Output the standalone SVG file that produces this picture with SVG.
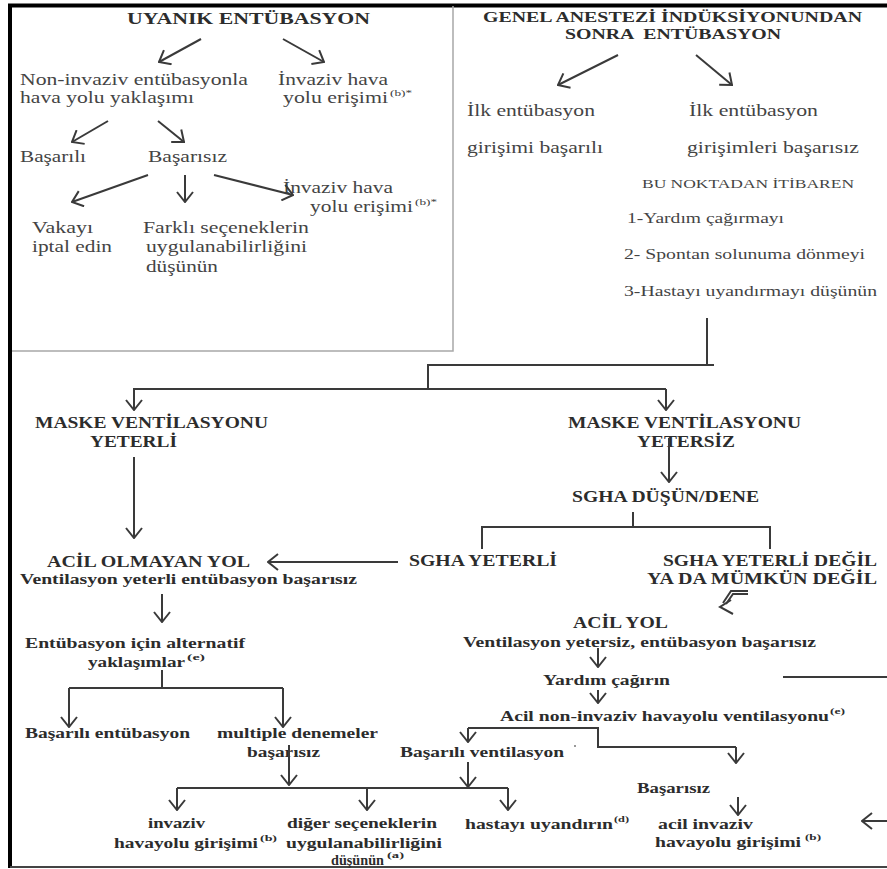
<svg xmlns="http://www.w3.org/2000/svg" width="887" height="869" viewBox="0 0 887 869">
  <style>
    text { font-family: "Liberation Serif", "Times New Roman", serif; fill: #3a3a3a; }
    .r { font-size: 17px; fill: #444; }
    .s { font-size: 14px; fill: #444; }
    .xs { font-size: 13px; fill: #444; }
    .b { font-weight: bold; fill: #2c2c2c; }
    .h { font-size: 16px; }
    .m { font-size: 15px; }
    .sup { font-size: 9px; }
    .c { fill: none; stroke: #3a3a3a; stroke-width: 2; }
    .a { fill: none; stroke: #3a3a3a; stroke-width: 2; marker-end: url(#ah); }
    .frame { fill: none; stroke: #000; stroke-width: 4; }
    .box { fill: none; stroke: #a8a8a8; stroke-width: 1.5; }
  </style>
  <defs>
    <marker id="ah" markerUnits="userSpaceOnUse" viewBox="0 0 12 18" markerWidth="12" markerHeight="18" refX="11" refY="9" orient="auto">
      <path d="M1,1 L11,9 L1,17" fill="none" stroke="#3a3a3a" stroke-width="2"/>
    </marker>
  </defs>

  <rect width="887" height="869" fill="#fff"/>

  <!-- outer frame -->
  <g id="frame">
    <line class="frame" x1="8" y1="5.5" x2="887" y2="5.5"/>
    <line class="frame" x1="10" y1="4" x2="10" y2="868"/>
    <line x1="10" y1="867" x2="887" y2="867" stroke="#444" stroke-width="2"/>
    <polyline class="box" points="453,6 453,351 12,351"/>
  </g>

  <!-- awake intubation panel -->
  <g id="awake">
    <text class="b h" x="127" y="24" textLength="243" lengthAdjust="spacingAndGlyphs">UYANIK ENTÜBASYON</text>
    <text class="r" x="20" y="85" textLength="228" lengthAdjust="spacingAndGlyphs">Non-invaziv entübasyonla</text>
    <text class="r" x="20" y="103" textLength="174" lengthAdjust="spacingAndGlyphs">hava yolu yaklaşımı</text>
    <text class="r" x="278" y="85" textLength="110" lengthAdjust="spacingAndGlyphs">İnvaziv hava</text>
    <text class="r" x="283" y="103" textLength="105" lengthAdjust="spacingAndGlyphs">yolu erişimi</text>
    <text class="sup" x="390" y="96" textLength="22" lengthAdjust="spacingAndGlyphs">(b)*</text>
    <text class="r" x="20" y="162" textLength="66" lengthAdjust="spacingAndGlyphs">Başarılı</text>
    <text class="r" x="148" y="162" textLength="79" lengthAdjust="spacingAndGlyphs">Başarısız</text>
    <text class="r" x="283" y="193" textLength="110" lengthAdjust="spacingAndGlyphs">İnvaziv hava</text>
    <text class="r" x="310" y="212" textLength="103" lengthAdjust="spacingAndGlyphs">yolu erişimi</text>
    <text class="sup" x="415" y="205" textLength="22" lengthAdjust="spacingAndGlyphs">(b)*</text>
    <text class="r" x="32" y="233" textLength="61" lengthAdjust="spacingAndGlyphs">Vakayı</text>
    <text class="r" x="32" y="252" textLength="80" lengthAdjust="spacingAndGlyphs">iptal edin</text>
    <text class="r" x="143" y="233" textLength="166" lengthAdjust="spacingAndGlyphs">Farklı seçeneklerin</text>
    <text class="r" x="146" y="252" textLength="161" lengthAdjust="spacingAndGlyphs">uygulanabilirliğini</text>
    <text class="r" x="146" y="272" textLength="72" lengthAdjust="spacingAndGlyphs">düşünün</text>
  </g>

  <!-- intubation after induction panel -->
  <g id="induction">
    <text class="b m" x="483" y="22" textLength="379" lengthAdjust="spacingAndGlyphs">GENEL ANESTEZİ İNDÜKSİYONUNDAN</text>
    <text class="b m" x="565" y="39" textLength="216" lengthAdjust="spacingAndGlyphs" xml:space="preserve">SONRA  ENTÜBASYON</text>
    <text class="r" x="467" y="116" textLength="128" lengthAdjust="spacingAndGlyphs">İlk entübasyon</text>
    <text class="r" x="467" y="153" textLength="136" lengthAdjust="spacingAndGlyphs">girişimi başarılı</text>
    <text class="r" x="689" y="116" textLength="129" lengthAdjust="spacingAndGlyphs">İlk entübasyon</text>
    <text class="r" x="687" y="153" textLength="172" lengthAdjust="spacingAndGlyphs">girişimleri başarısız</text>
    <text class="xs" x="642" y="188" textLength="212" lengthAdjust="spacingAndGlyphs">BU NOKTADAN İTİBAREN</text>
    <text class="s" x="627" y="223" textLength="157" lengthAdjust="spacingAndGlyphs">1-Yardım çağırmayı</text>
    <text class="s" x="624" y="259" textLength="241" lengthAdjust="spacingAndGlyphs" xml:space="preserve">2- Spontan solunuma dönmeyi</text>
    <text class="s" x="624" y="296" textLength="253" lengthAdjust="spacingAndGlyphs">3-Hastayı uyandırmayı düşünün</text>
  </g>

  <!-- adequate mask ventilation branch -->
  <g id="mask-ok">
    <text class="b h" x="35" y="428" textLength="233" lengthAdjust="spacingAndGlyphs">MASKE VENTİLASYONU</text>
    <text class="b h" x="90" y="447" textLength="87" lengthAdjust="spacingAndGlyphs">YETERLİ</text>
  </g>
  <g id="non-emergency">
    <text class="b h" x="47" y="567" textLength="203" lengthAdjust="spacingAndGlyphs">ACİL OLMAYAN YOL</text>
    <text class="b m" x="20" y="584" textLength="337" lengthAdjust="spacingAndGlyphs">Ventilasyon yeterli entübasyon başarısız</text>
  </g>
  <g id="alternatives">
    <text class="b m" x="25" y="648" textLength="220" lengthAdjust="spacingAndGlyphs">Entübasyon için alternatif</text>
    <text class="b m" x="88" y="667" textLength="97" lengthAdjust="spacingAndGlyphs">yaklaşımlar</text>
    <text class="b sup" x="187" y="660" textLength="18" lengthAdjust="spacingAndGlyphs">(e)</text>
  </g>
  <g id="success-intubation">
    <text class="b m" x="25" y="738" textLength="165" lengthAdjust="spacingAndGlyphs">Başarılı entübasyon</text>
  </g>
  <g id="multiple-fail">
    <text class="b m" x="217" y="738" textLength="161" lengthAdjust="spacingAndGlyphs">multiple denemeler</text>
    <text class="b m" x="247" y="757" textLength="73" lengthAdjust="spacingAndGlyphs">başarısız</text>
  </g>
  <g id="invasive-access">
    <text class="b m" x="148" y="828" textLength="57" lengthAdjust="spacingAndGlyphs">invaziv</text>
    <text class="b m" x="114" y="848" textLength="144" lengthAdjust="spacingAndGlyphs">havayolu girişimi</text>
    <text class="b sup" x="260" y="841" textLength="17" lengthAdjust="spacingAndGlyphs">(b)</text>
  </g>
  <g id="other-options">
    <text class="b m" x="287" y="828" textLength="150" lengthAdjust="spacingAndGlyphs">diğer seçeneklerin</text>
    <text class="b m" x="286" y="848" textLength="156" lengthAdjust="spacingAndGlyphs">uygulanabilirliğini</text>
    <text class="b m" x="331" y="865" textLength="53" lengthAdjust="spacingAndGlyphs">düşünün</text>
    <text class="b sup" x="387" y="858" textLength="17" lengthAdjust="spacingAndGlyphs">(a)</text>
  </g>
  <g id="wake-patient">
    <text class="b m" x="465" y="829" textLength="148" lengthAdjust="spacingAndGlyphs">hastayı uyandırın</text>
    <text class="b sup" x="614" y="822" textLength="15" lengthAdjust="spacingAndGlyphs">(d)</text>
  </g>

  <!-- inadequate mask ventilation branch -->
  <g id="mask-fail">
    <text class="b h" x="568" y="428" textLength="233" lengthAdjust="spacingAndGlyphs">MASKE VENTİLASYONU</text>
    <text class="b h" x="637" y="447" textLength="98" lengthAdjust="spacingAndGlyphs">YETERSİZ</text>
  </g>
  <g id="sga-try">
    <text class="b h" x="572" y="502" textLength="187" lengthAdjust="spacingAndGlyphs">SGHA DÜŞÜN/DENE</text>
  </g>
  <g id="sga-ok">
    <text class="b h" x="409" y="566" textLength="148" lengthAdjust="spacingAndGlyphs">SGHA YETERLİ</text>
  </g>
  <g id="sga-fail">
    <text class="b h" x="663" y="566" textLength="214" lengthAdjust="spacingAndGlyphs">SGHA YETERLİ DEĞİL</text>
    <text class="b h" x="647" y="584" textLength="230" lengthAdjust="spacingAndGlyphs">YA DA MÜMKÜN DEĞİL</text>
  </g>
  <g id="emergency">
    <text class="b h" x="573" y="628" textLength="95" lengthAdjust="spacingAndGlyphs">ACİL YOL</text>
    <text class="b m" x="463" y="647" textLength="353" lengthAdjust="spacingAndGlyphs">Ventilasyon yetersiz, entübasyon başarısız</text>
  </g>
  <g id="call-help">
    <text class="b m" x="543" y="685" textLength="127" lengthAdjust="spacingAndGlyphs">Yardım çağırın</text>
  </g>
  <g id="emergency-noninvasive">
    <text class="b m" x="500" y="721" textLength="329" lengthAdjust="spacingAndGlyphs">Acil non-invaziv havayolu ventilasyonu</text>
    <text class="b sup" x="830" y="714" textLength="15" lengthAdjust="spacingAndGlyphs">(e)</text>
  </g>
  <g id="ventilation-ok">
    <text class="b m" x="400" y="757" textLength="164" lengthAdjust="spacingAndGlyphs">Başarılı ventilasyon</text>
    <circle cx="575" cy="746" r="1" fill="#777"/>
  </g>
  <g id="ventilation-fail">
    <text class="b m" x="637" y="793" textLength="73" lengthAdjust="spacingAndGlyphs">Başarısız</text>
  </g>
  <g id="emergency-invasive">
    <text class="b m" x="658" y="829" textLength="95" lengthAdjust="spacingAndGlyphs">acil invaziv</text>
    <text class="b m" x="655" y="847" textLength="146" lengthAdjust="spacingAndGlyphs">havayolu girişimi</text>
    <text class="b sup" x="805" y="840" textLength="16" lengthAdjust="spacingAndGlyphs">(b)</text>
  </g>

  <!-- connectors -->
  <g id="connectors">
    <!-- awake panel -->
    <line class="a" x1="201" y1="39" x2="159" y2="62"/>
    <line class="a" x1="283" y1="39" x2="324" y2="62"/>
    <line class="a" x1="108" y1="121" x2="72" y2="142"/>
    <line class="a" x1="158" y1="121" x2="184" y2="142"/>
    <line class="a" x1="148" y1="175" x2="72" y2="202"/>
    <line class="a" x1="185" y1="175" x2="185" y2="202"/>
    <line class="a" x1="214" y1="175" x2="293" y2="195"/>
    <!-- induction panel -->
    <line class="a" x1="618" y1="55" x2="558" y2="85"/>
    <line class="a" x1="696" y1="55" x2="732" y2="85"/>
    <!-- split to mask ventilation outcomes -->
    <polyline class="c" points="707,318 707,365 428,365 428,389"/>
    <line class="c" x1="707" y1="365" x2="714" y2="365"/>
    <polyline class="c" points="134,410 134,389 666,389"/>
    <line class="a" x1="134" y1="389" x2="134" y2="410"/>
    <line class="a" x1="666" y1="389" x2="666" y2="410"/>
    <line class="a" x1="134" y1="457" x2="134" y2="538"/>
    <line class="a" x1="669" y1="438" x2="669" y2="482"/>
    <!-- SGA split -->
    <polyline class="c" points="633,512 633,527"/>
    <polyline class="c" points="482,549 482,527 770,527 770,549"/>
    <line class="a" x1="398" y1="562" x2="268" y2="562"/>
    <!-- bent link towards emergency pathway -->
    <path class="c" d="M748,591 H731 L723,603" stroke-width="1.6"/>
    <path class="c" d="M748,594 H733 L726,604" stroke-width="1.2"/>
    <path class="c" d="M731,600 L720,607 L733,614"/>
    <!-- non-emergency pathway -->
    <line class="a" x1="162" y1="594" x2="162" y2="622"/>
    <polyline class="c" points="162,670 162,688"/>
    <polyline class="c" points="69,688 283,688"/>
    <line class="a" x1="69" y1="688" x2="69" y2="727"/>
    <line class="a" x1="283" y1="688" x2="283" y2="727"/>
    <line class="a" x1="289" y1="745" x2="289" y2="785"/>
    <polyline class="c" points="177,788 508,788"/>
    <line class="a" x1="177" y1="788" x2="177" y2="810"/>
    <line class="a" x1="367" y1="788" x2="367" y2="810"/>
    <line class="a" x1="508" y1="788" x2="508" y2="810"/>
    <!-- emergency pathway -->
    <line class="a" x1="598" y1="648" x2="598" y2="667"/>
    <line class="a" x1="598" y1="690" x2="598" y2="703"/>
    <line class="c" x1="783" y1="677" x2="887" y2="677"/>
    <polyline class="c" points="468,728 598,728 598,747 736,747"/>
    <line class="a" x1="468" y1="728" x2="468" y2="742"/>
    <line class="a" x1="736" y1="747" x2="736" y2="763"/>
    <line class="a" x1="468" y1="762" x2="468" y2="787"/>
    <line class="a" x1="738" y1="797" x2="738" y2="815"/>
    <line class="a" x1="887" y1="821" x2="862" y2="821"/>
  </g>
</svg>
